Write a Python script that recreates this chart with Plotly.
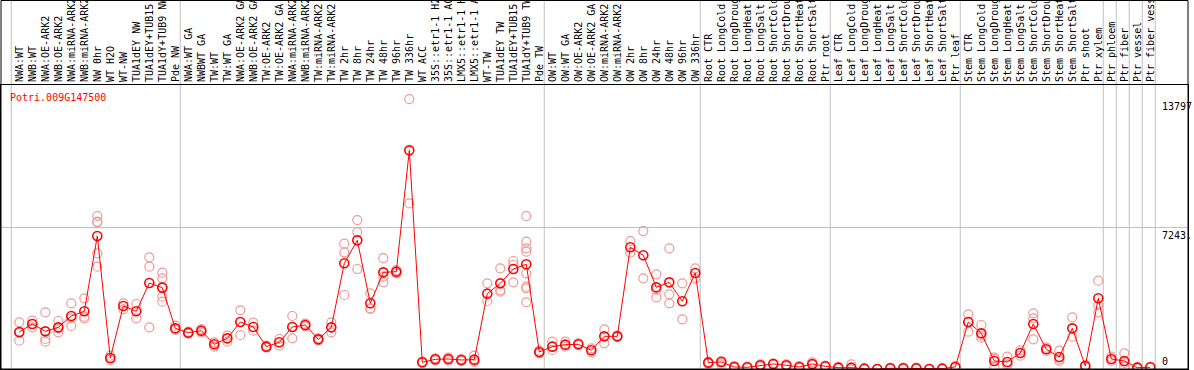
import plotly.graph_objects as go

gene = "Potri.009G147500"

labels = [
    "NWA:WT", "NWB:WT", "NWA:OE-ARK2", "NWB:OE-ARK2", "NWA:miRNA-ARK2", "NWB:miRNA-ARK2",
    "NW 0hr", "WT H2O", "WT-NW", "TUA1dEY NW", "TUA1dEY+TUB15 NW", "TUA1dY+TUB9 NW", "Pde NW",
    "NWA:WT GA", "NWBWT GA", "TW:WT", "TW:WT GA", "NWA:OE-ARK2 GA", "NWB:OE-ARK2 GA",
    "TW:OE-ARK2", "TW:OE-ARK2 GA", "NWA:miRNA-ARK2", "NWB:miRNA-ARK2", "TW:miRNA-ARK2",
    "TW:miRNA-ARK2", "TW 2hr", "TW 8hr", "TW 24hr", "TW 48hr", "TW 96hr", "TW 336hr",
    "WT ACC", "35S::etr1-1 H2O", "35S::etr1-1 ACC", "LMX5::etr1-1 H2O", "LMX5::etr1-1 ACC",
    "WT-TW", "TUA1dEY TW", "TUA1dEY+TUB15 TW", "TUA1dY+TUB9 TW", "Pde TW",
    "OW:WT", "OW:WT GA", "OW:OE-ARK2", "OW:OE-ARK2 GA", "OW:miRNA-ARK2", "OW:miRNA-ARK2",
    "OW 2hr", "OW 8hr", "OW 24hr", "OW 48hr", "OW 96hr", "OW 336hr",
    "Root CTR", "Root LongCold", "Root LongDrought", "Root LongHeat", "Root LongSalt",
    "Root ShortCold", "Root ShortDrought", "Root ShortHeat", "Root ShortSalt", "Ptr root",
    "Leaf CTR", "Leaf LongCold", "Leaf LongDrought", "Leaf LongHeat", "Leaf LongSalt",
    "Leaf ShortCold", "Leaf ShortDrought", "Leaf ShortHeat", "Leaf ShortSalt", "Ptr leaf",
    "Stem CTR", "Stem LongCold", "Stem LongDrought", "Stem LongHeat", "Stem LongSalt",
    "Stem ShortCold", "Stem ShortDrought", "Stem ShortHeat", "Stem ShortSalt", "Ptr shoot",
    "Ptr xylem", "Ptr phloem", "Ptr fiber", "Ptr vessel", "Ptr fiber vessel",
]

means = [
    1913, 2321, 1947, 2151, 2730, 2968, 6811, 587, 3240, 2968, 4413, 4175, 2100,
    1879, 1981, 1284, 1590, 2423, 2168, 1165, 1386, 2168, 2270, 1539, 2151,
    5417, 6590, 3376, 4957, 4991, 11182, 366, 519, 536, 485, 502,
    3869, 4396, 5128, 5366, 893,
    1165, 1267, 1284, 978, 1692, 1692, 6233, 5825, 4192, 4447, 3478, 4924,
    349, 383, 128, 111, 213, 281, 213, 128, 281, 162,
    94, 94, 43, 26, 60, 60, 60, 26, 43, 128,
    2423, 1845, 434, 383, 842, 2321, 1029, 638, 2100, 179,
    3631, 536, 434, 94, 111,
]

reps = [
    [2406, 1862, 1471], [2491, 2321, 2151], [2916, 1556, 1420], [2474, 1896, 2100],
    [3375, 2610, 2219], [3630, 2695, 2610], [7829, 7540, 7506, 5925, 5245], [706, 485],
    [3375, 3069], [3341, 2610], [5721, 5245, 2151], [4939, 4650, 4225, 3715, 3460],
    [2236, 2015],
    [1930, 1828], [2066, 1896], [1386, 1165], [1726, 1420], [3018, 2423, 1760],
    [2389, 1981], [1216, 1114], [1556, 1216], [2729, 2168, 1590], [2338, 2202],
    [1590, 1488], [2406, 1896], [6418, 5976, 3800], [7625, 7013, 5126],
    [3885, 3120, 3086], [5687, 4735, 4446], [5075, 4905], [13797, 8475],
    [400, 332], [570, 468], [604, 468], [536, 434], [706, 400, 400],
    [4395, 3494], [5160, 4037, 3970], [5535, 5331, 4446],
    [7829, 6520, 6180, 6010, 4905, 4225, 4140, 3426], [961, 825],
    [1420, 995, 1165], [1420, 1165], [1335, 1250], [1080, 876], [2049, 1335],
    [1726, 1658], [6554, 5960], [7064, 4650], [4854, 4055, 3681],
    [6180, 3834, 3375], [4395, 2559], [5160, 4650],
    [400, 298], [434, 264], [179, 77], [145, 77], [264, 162], [315, 247],
    [264, 162], [179, 77], [366, 230], [196, 128],
    [128, 60], [264, 26, 0], [60, 26], [26, 26], [94, 26], [94, 26], [94, 26],
    [26, 26], [60, 26], [179, 77],
    [2814, 2423, 1930], [2270, 1726, 1624], [604, 145, 536], [655, 230, 264],
    [978, 706], [2866, 2610, 1539], [1114, 944], [961, 434, 519], [2661, 1675],
    [230, 128], [4532, 3290, 2916], [655, 434], [825, 145, 332], [128, 60], [128, 94],
]

group_sizes = [13, 28, 12, 10, 10, 11, 1, 1, 1, 1]

y_ticks = [13797, 7243, 0]
y_tick_text = ["13797", "7243.", "0"]
grid_value = 7243

X_RANGE = [-1.408, 89.9]
Y_RANGE = [25, 14515]
MONO = "DejaVu Sans Mono"

xs = list(range(len(labels)))
rx, ry = [], []
for i, r in enumerate(reps):
    for v in r:
        rx.append(i)
        ry.append(v)

fig = go.Figure()
fig.add_trace(go.Scatter(
    x=rx, y=ry, mode="markers", hoverinfo="skip",
    marker=dict(symbol="circle-open", size=9, color="#ee9a9a", line=dict(width=1.2)),
))
fig.add_trace(go.Scatter(
    x=xs, y=means, mode="lines+markers",
    line=dict(color="#ff0000", width=1),
    marker=dict(symbol="circle-open", size=9, color="#ff0000", line=dict(width=1.6)),
))

shapes = []
pos = 0
bounds = [0]
for g in group_sizes:
    pos += g
    bounds.append(pos)
top_paper = (369 - 0.5) / 284
for b in bounds:
    shapes.append(dict(type="line", xref="x", yref="paper", x0=b - 0.62, x1=b - 0.62,
                       y0=0, y1=top_paper + 0.01, line=dict(color="#c0c0c0", width=1),
                       layer="below"))
shapes.append(dict(type="line", xref="paper", yref="y", x0=0, x1=1,
                   y0=grid_value, y1=grid_value, line=dict(color="#c0c0c0", width=1),
                   layer="below"))
shapes.append(dict(type="rect", xref="paper", yref="paper", x0=0, x1=1,
                   y0=0, y1=top_paper, line=dict(color="black", width=1)))

annotations = [dict(text=gene, xref="paper", yref="paper", x=0.006, y=0.957,
                    xanchor="left", yanchor="middle", showarrow=False,
                    font=dict(family=MONO, size=10, color="#ff0000"))]
for v, t in zip(y_ticks, y_tick_text):
    annotations.append(dict(
        text=t, xref="x", yref="y", x=88, y=max(v, Y_RANGE[0] + 5),
        xanchor="left", yanchor="top" if v > 0 else "bottom", showarrow=False,
        xshift=-3, font=dict(family=MONO, size=10, color="black")))

fig.update_layout(
    width=1194, height=370,
    margin=dict(l=1, r=6, t=85, b=1, pad=0),
    paper_bgcolor="white", plot_bgcolor="white",
    showlegend=False,
    font=dict(family=MONO, size=10, color="black"),
    shapes=shapes, annotations=annotations,
    xaxis=dict(range=X_RANGE, side="top", tickmode="array", tickvals=xs, ticktext=labels,
               tickangle=-90, ticks="", showgrid=False, zeroline=False,
               showline=True, linecolor="black", linewidth=1, mirror=True,
               automargin=False, tickfont=dict(family=MONO, size=10, color="black")),
    yaxis=dict(range=Y_RANGE, showticklabels=False, ticks="", showgrid=False,
               zeroline=False, showline=True, linecolor="black", linewidth=1,
               mirror=True, automargin=False),
)

fig.write_html(
    "out.html",
    config={"displayModeBar": False},
    post_script="document.body.style.margin='0';document.body.style.overflow='hidden';",
)
